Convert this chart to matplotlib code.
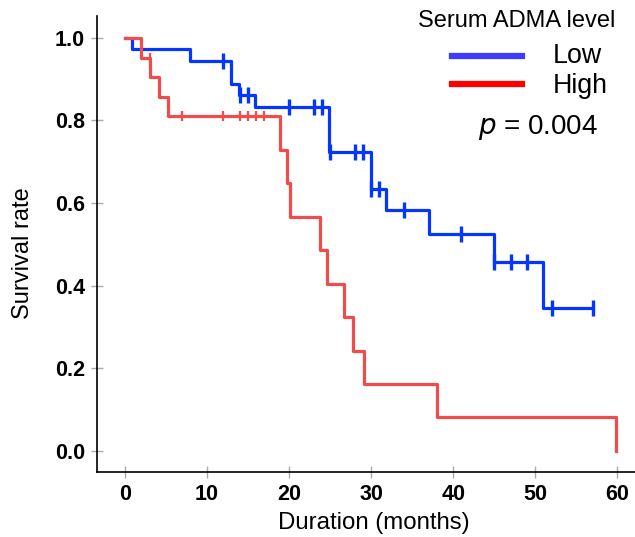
import matplotlib
matplotlib.use("Agg")
import matplotlib.pyplot as plt
from matplotlib.lines import Line2D

plt.rcParams['font.family'] = ['Liberation Sans', 'DejaVu Sans']

# --- Low ADMA group (step curve + censored points) ---
low_time = [0, 0.9, 7.9, 12.9, 13.9, 15.9, 24.9, 30.0, 31.8, 37.0, 45.0, 51.0, 57.0]
low_surv = [1.0, 0.972, 0.945, 0.889, 0.861, 0.832, 0.724, 0.633, 0.582, 0.524, 0.458, 0.345, 0.345]
low_cens_t = [12, 14, 15, 20, 23, 24, 25, 28, 29, 30, 31, 34, 41, 45, 47, 49, 52, 57]
low_cens_s = [0.945, 0.861, 0.861, 0.832, 0.832, 0.832, 0.724, 0.724, 0.724, 0.633, 0.633,
              0.582, 0.524, 0.458, 0.458, 0.458, 0.345, 0.345]

# --- High ADMA group ---
high_time = [0, 2.0, 3.0, 4.2, 5.2, 18.9, 19.8, 20.1, 23.8, 24.6, 26.7, 27.8, 29.1, 38.0, 59.8]
high_surv = [1.0, 0.952, 0.905, 0.857, 0.810, 0.729, 0.648, 0.567, 0.486, 0.405,
             0.324, 0.243, 0.162, 0.081, 0.0]
high_cens_t = [3, 7, 12, 14, 15, 16, 17]
high_cens_s = [0.952, 0.810, 0.810, 0.810, 0.810, 0.810, 0.810]

blue = '#0536FF'
red = '#F04C4C'

fig = plt.figure(figsize=(6.35, 5.37), dpi=100)
ax = fig.add_axes([0.1528, 0.121, 0.8472, 0.849])

ax.step(low_time, low_surv, where='post', color=blue, lw=2.3)
ax.plot(low_cens_t, low_cens_s, ls='none', marker='|', ms=11, mew=2.4, color=blue)
ax.step(high_time, high_surv, where='post', color=red, lw=2.3)
ax.plot(high_cens_t, high_cens_s, ls='none', marker='|', ms=6.5, mew=1.6, color=red)

ax.set_xlim(-3.41, 62.16)
ax.set_ylim(-0.051, 1.0525)
ax.set_xticks([0, 10, 20, 30, 40, 50, 60])
ax.set_yticks([0.0, 0.2, 0.4, 0.6, 0.8, 1.0])
ax.set_yticklabels(['0.0', '0.2', '0.4', '0.6', '0.8', '1.0'])

for s in ['top', 'right']:
    ax.spines[s].set_visible(False)
for s in ['left', 'bottom']:
    ax.spines[s].set_linewidth(1.2)
ax.tick_params(direction='inout', length=9, width=1, color='#aaaaaa',
               labelsize=15.5, pad=4)
for lab in ax.get_xticklabels() + ax.get_yticklabels():
    lab.set_fontweight('bold')

ax.set_xlabel('Duration (months)', fontsize=17.3)
ax.set_ylabel('Survival rate', fontsize=17)
ax.xaxis.set_label_coords(0.515, -0.088)
ax.yaxis.set_label_coords(-0.118, 0.481)

# legend drawn by hand
fig.text(517 / 635, 1 - 21 / 537, 'Serum ADMA level', fontsize=17, ha='center', va='center')
fig.add_artist(Line2D([452 / 635, 522 / 635], [1 - 56 / 537, 1 - 56 / 537], color='#3c3cff', lw=4.5))
fig.add_artist(Line2D([452 / 635, 522 / 635], [1 - 84 / 537, 1 - 84 / 537], color='#ff0000', lw=4.5))
fig.text(553 / 635, 1 - 56 / 537, 'Low', fontsize=19.3, ha='left', va='center')
fig.text(553 / 635, 1 - 86 / 537, 'High', fontsize=19.3, ha='left', va='center')
fig.text(478 / 635, 1 - 127 / 537, r'$p$ = 0.004', fontsize=20, ha='left', va='center')

fig.savefig('out.png', dpi=100)
